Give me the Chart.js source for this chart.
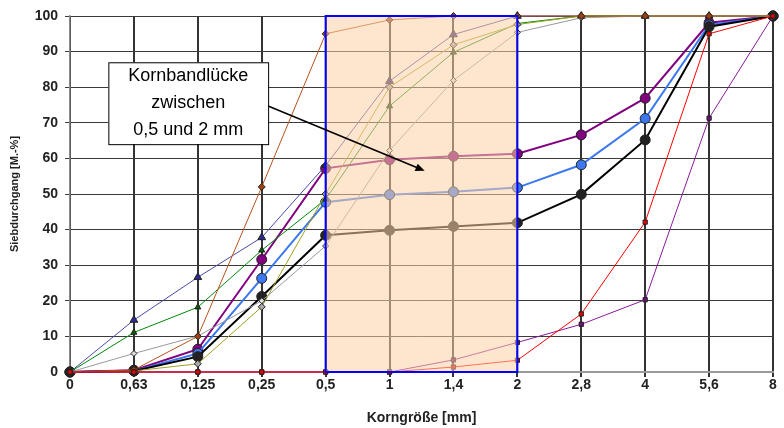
<!DOCTYPE html>
<html lang="de">
<head>
  <meta charset="UTF-8">
  <title>Sieblinien</title>
  <script src="https://cdn.jsdelivr.net/npm/chart.js"></script>
  <style>
    html, body { margin: 0; padding: 0; background: #fff; }
    .grafico { width: 784px; height: 428px; }
  </style>
</head>
<body>
  <div class="grafico">
    <canvas id="sieblinie"></canvas>
  </div>

<script>
  // Korngrößen (Kategorien der x-Achse)
  const korngroessen = ['0', '0,63', '0,125', '0,25', '0,5', '1', '1,4', '2', '2,8', '4', '5,6', '8'];

  // Siebdurchgang in M.-% je Sieblinie
  const linie_braun   = [0, 0.6, 10, 52, 95, 98.9, 100, 100, 100, 100, 100, 100];
  const linie_blau_d  = [0, 14.6, 26.6, 37.8, 58, 81.7, 94.8, 100, 100, 100, 100, 100];
  const linie_gruen   = [0, 11.1, 18.2, 34.2, 48.5, 74.7, 89.8, 97.9, 100, 100, 100, 100];
  const linie_grau    = [0, 5.2, 10.1, 20, 35.4, 62.2, 81.9, 95.4, 99.5, 100, 100, 100];
  const linie_oliv    = [0, 0.3, 2.3, 18.3, 50, 80, 91.9, 97.6, 100, 100, 100, 100];
  const linie_lila    = [0, 0.5, 6.4, 31.6, 57.2, 59.6, 60.6, 61.3, 66.6, 76.9, 98.1, 100];
  const linie_blau    = [0, 0.3, 5.2, 26.3, 47.7, 49.8, 50.6, 51.8, 58.2, 71.2, 97.5, 100];
  const linie_schwarz = [0, 0.3, 4.3, 21.2, 38.4, 39.8, 40.9, 41.9, 49.9, 65.2, 97, 100];
  const linie_rot     = [0, 0, 0, 0, 0, 0, 1.4, 3.3, 16.3, 42.1, 95, 100];
  const linie_violett = [0, 0, 0, 0, 0, 0, 3.4, 8.3, 13.4, 20.3, 71.3, 100];

  // Kornbandlücke (Index der Kategorien) und Hinweistext
  const luecke_von = 4;
  const luecke_bis = 7;
  const hinweis_text = ['Kornbandlücke', 'zwischen', '0,5 und 2 mm'];

  const schrift = "'Liberation Sans Narrow', 'Arial Narrow', Arial, sans-serif";

  function linie(daten, farbe, breite, punkt, radius, fuellung) {
    return {
      data: daten,
      borderColor: farbe,
      borderWidth: breite,
      pointStyle: punkt,
      pointRadius: radius,
      pointBackgroundColor: fuellung,
      pointBorderColor: '#222',
      pointBorderWidth: 1,
      tension: 0,
      fill: false,
      clip: false
    };
  }

  const kornbandluecke = {
    id: 'kornbandluecke',
    afterDatasetsDraw(chart) {
      const ctx = chart.ctx;
      const x = chart.scales.x;
      const y = chart.scales.y;
      const x1 = x.getPixelForValue(luecke_von);
      const x2 = x.getPixelForValue(luecke_bis);
      const y1 = y.getPixelForValue(100);
      const y2 = y.getPixelForValue(0);
      ctx.save();
      ctx.fillStyle = 'rgba(253, 207, 164, 0.55)';
      ctx.fillRect(x1, y1, x2 - x1, y2 - y1);
      ctx.strokeStyle = '#0000ff';
      ctx.lineWidth = 2;
      ctx.strokeRect(x1, y1, x2 - x1, y2 - y1);
      ctx.restore();
    },
    afterDraw(chart) {
      const ctx = chart.ctx;
      const x = chart.scales.x;
      const y = chart.scales.y;
      // Hinweiskasten
      const bx1 = x.getPixelForValue(0.6);
      const bx2 = x.getPixelForValue(3.1);
      const by1 = y.getPixelForValue(87);
      const by2 = y.getPixelForValue(64);
      ctx.save();
      ctx.fillStyle = '#fff';
      ctx.fillRect(bx1, by1, bx2 - bx1, by2 - by1);
      ctx.strokeStyle = '#000';
      ctx.lineWidth = 1;
      ctx.strokeRect(bx1 + 0.5, by1 + 0.5, bx2 - bx1, by2 - by1);
      ctx.fillStyle = '#000';
      ctx.font = "18px 'Liberation Sans', Arial, sans-serif";
      ctx.textAlign = 'center';
      ctx.textBaseline = 'middle';
      const mitte = (bx1 + bx2) / 2;
      const zeile = (by2 - by1) / 3;
      hinweis_text.forEach((t, i) => ctx.fillText(t, mitte, by1 + zeile * (i + 0.5)));

      // Pfeil
      const ax1 = bx2;
      const ay1 = y.getPixelForValue(74.7);
      const ax2 = x.getPixelForValue(5.55);
      const ay2 = y.getPixelForValue(56.5);
      const winkel = Math.atan2(ay2 - ay1, ax2 - ax1);
      ctx.strokeStyle = '#000';
      ctx.lineWidth = 1.5;
      ctx.beginPath();
      ctx.moveTo(ax1, ay1);
      ctx.lineTo(ax2 - 6 * Math.cos(winkel), ay2 - 6 * Math.sin(winkel));
      ctx.stroke();
      ctx.beginPath();
      ctx.moveTo(ax2, ay2);
      ctx.lineTo(ax2 - 10 * Math.cos(winkel - 0.4), ay2 - 10 * Math.sin(winkel - 0.4));
      ctx.lineTo(ax2 - 10 * Math.cos(winkel + 0.4), ay2 - 10 * Math.sin(winkel + 0.4));
      ctx.closePath();
      ctx.fill();
      ctx.restore();
    }
  };

  const dados = {
    labels: korngroessen,
    datasets: [
      linie(linie_rot, '#ff0000', 1, 'rect', 3, '#ee0000'),
      linie(linie_violett, '#8a1a9a', 1, 'rect', 3, '#70107a'),
      linie(linie_braun, '#b5521c', 1, 'rectRot', 3.5, '#a0400f'),
      linie(linie_grau, '#999999', 1, 'rectRot', 3, '#dddddd'),
      linie(linie_oliv, '#a0a020', 1, 'rectRot', 3.5, '#a8a8a8'),
      linie(linie_gruen, '#00880a', 1, 'triangle', 3.5, '#006000'),
      linie(linie_blau_d, '#4a4aa8', 1, 'triangle', 4.5, '#2a2a90'),
      linie(linie_schwarz, '#000000', 2, 'circle', 5, '#222222'),
      linie(linie_blau, '#3b78f0', 2, 'circle', 5, '#3b78f0'),
      linie(linie_lila, '#800080', 2, 'circle', 5, '#800080')
    ]
  };

  const config = {
    type: 'line',
    data: dados,
    options: {
      responsive: true,
      maintainAspectRatio: false,
      animation: false,
      layout: { padding: { top: 16, right: 11, left: 0, bottom: 0 } },
      plugins: {
        legend: { display: false },
        tooltip: { enabled: false }
      },
      scales: {
        x: {
          type: 'category',
          offset: false,
          grid: { color: '#333', lineWidth: 2, tickLength: 5, drawTicks: true },
          border: { color: '#999', width: 2 },
          ticks: {
            color: '#222', padding: 0, maxRotation: 0, autoSkip: false,
            font: { family: schrift, size: 14, weight: 'bold' }
          },
          title: {
            display: true, text: 'Korngröße [mm]', color: '#222',
            font: { family: schrift, size: 14, weight: 'bold' },
            padding: { top: 0, bottom: 1 }
          },
          afterFit(s) { s.height = 56; }
        },
        y: {
          min: 0, max: 100,
          grid: { color: '#3a3a3a', lineWidth: 1, tickLength: 5 },
          border: { color: '#888', width: 1.5 },
          ticks: {
            stepSize: 10, color: '#222', padding: 7,
            font: { family: schrift, size: 14, weight: 'bold' }
          },
          title: {
            display: true, text: 'Siebdurchgang [M.-%]', color: '#222',
            font: { family: "'Liberation Sans', Arial, sans-serif", size: 11, weight: 'bold' },
            padding: { top: 8, bottom: 0 }
          },
          afterFit(s) { s.width = 70; }
        }
      }
    },
    plugins: [kornbandluecke]
  };

  let sieblinie = new Chart(document.getElementById('sieblinie'), config);
</script>
</body>
</html>
